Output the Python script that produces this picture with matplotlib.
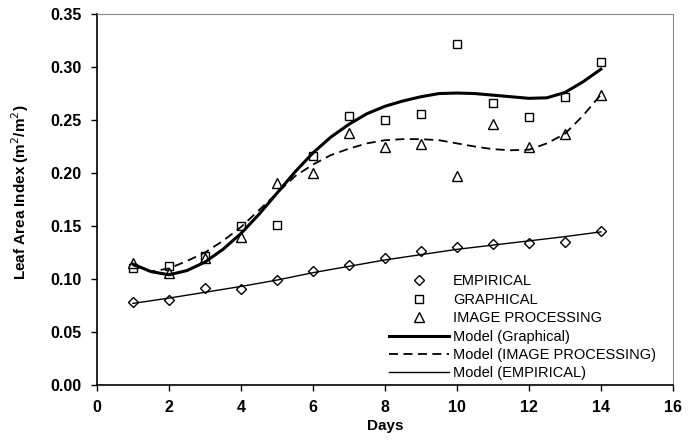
import matplotlib
matplotlib.use('Agg')
import matplotlib.pyplot as plt

plt.rcParams['font.family'] = ['Liberation Sans', 'DejaVu Sans']

# measured points
days = [1, 2, 3, 4, 5, 6, 7, 8, 9, 10, 11, 12, 13, 14]
empirical = [0.078, 0.080, 0.092, 0.091, 0.099, 0.108, 0.113, 0.120, 0.126, 0.130, 0.133, 0.134, 0.135, 0.145]
graphical = [0.110, 0.112, 0.122, 0.150, 0.151, 0.216, 0.254, 0.250, 0.256, 0.322, 0.266, 0.253, 0.272, 0.305]
image_proc = [0.115, 0.106, 0.120, 0.140, 0.191, 0.200, 0.238, 0.225, 0.227, 0.197, 0.246, 0.225, 0.237, 0.274]

# model curves, every half day
model_days = [1, 1.5, 2, 2.5, 3, 3.5, 4, 4.5, 5, 5.5, 6, 6.5, 7, 7.5, 8, 8.5, 9,
              9.5, 10, 10.5, 11, 11.5, 12, 12.5, 13, 13.5, 14]
model_graphical = [0.114, 0.107, 0.104, 0.108, 0.116, 0.128, 0.143, 0.161, 0.181, 0.201,
                   0.219, 0.234, 0.246, 0.256, 0.263, 0.268, 0.272, 0.275, 0.2755, 0.275,
                   0.2735, 0.272, 0.2705, 0.271, 0.276, 0.286, 0.298]
model_image = [0.113, 0.107, 0.110, 0.117, 0.125, 0.136, 0.149, 0.165, 0.181, 0.197,
               0.208, 0.217, 0.223, 0.228, 0.231, 0.232, 0.232, 0.231, 0.228, 0.225,
               0.2225, 0.2215, 0.222, 0.228, 0.237, 0.254, 0.274]
model_empirical = [0.077, 0.082, 0.0875, 0.093, 0.099, 0.106, 0.112, 0.118, 0.123,
                   0.128, 0.132, 0.136, 0.140, 0.1445]

fig = plt.figure(figsize=(6.88, 4.4), dpi=100)
ax = fig.add_axes([0.141, 0.125, 0.837, 0.843])

ax.plot(days, empirical, ls='none', marker='D', ms=5, mfc='white', mec='black', mew=1.0, label='EMPIRICAL')
ax.plot(days, graphical, ls='none', marker='s', ms=6, mfc='white', mec='black', mew=1.0, label='GRAPHICAL')
ax.plot(days, image_proc, ls='none', marker='^', ms=6.5, mfc='white', mec='black', mew=1.0, label='IMAGE PROCESSING')
ax.plot(model_days, model_graphical, color='black', lw=2.2, label='Model (Graphical)')
ax.plot(model_days, model_image, color='black', lw=1.3, ls=(0, (5, 3)), label='Model (IMAGE PROCESSING)')
ax.plot(days, model_empirical, color='black', lw=1.0, label='Model (EMPIRICAL)')

ax.set_xlim(0, 16)
ax.set_ylim(0, 0.35)
ax.set_xticks(range(0, 17, 2))
ax.set_yticks([0, 0.05, 0.10, 0.15, 0.20, 0.25, 0.30, 0.35])
ax.set_yticklabels(['%.2f' % v for v in ax.get_yticks()])
ax.tick_params(direction='out', length=4, width=1, labelsize=11.5, pad=7)
for lab in ax.get_xticklabels() + ax.get_yticklabels():
    lab.set_fontweight('bold')

ax.set_xlabel('Days', fontsize=11, fontweight='bold', labelpad=3)
ax.set_ylabel('Leaf Area Index (m$^2$/m$^2$)', fontsize=11, fontweight='bold')
ax.yaxis.set_label_coords(-0.115, 0.52)

ax.spines['left'].set_linewidth(1.2)
ax.spines['bottom'].set_linewidth(1.2)
for s in ('top', 'right'):
    ax.spines[s].set_color('#888888')
    ax.spines[s].set_linewidth(0.8)

ax.legend(loc='lower left', bbox_to_anchor=(0.49, -0.015), frameon=False, fontsize=10.5,
          numpoints=1, handlelength=4.1, handletextpad=0.25, labelspacing=0.3,
          borderpad=0.2)

fig.savefig('out.png', dpi=100)
